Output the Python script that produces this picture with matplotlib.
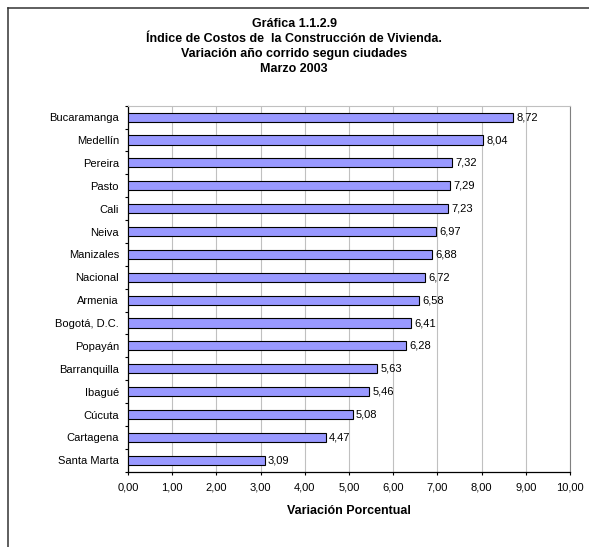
import matplotlib
matplotlib.use('Agg')
from matplotlib import pyplot as plt
from matplotlib.lines import Line2D
from matplotlib.ticker import FixedLocator, FuncFormatter
import numpy as np

plt.rcParams['font.family'] = ['Liberation Sans', 'DejaVu Sans']

titulos = ['Gráfica 1.1.2.9',
           'Índice de Costos de  la Construcción de Vivienda.',
           'Variación año corrido segun ciudades',
           'Marzo 2003']

ciudades = ['Bucaramanga', 'Medellín', 'Pereira', 'Pasto', 'Cali', 'Neiva',
            'Manizales', 'Nacional', 'Armenia', 'Bogotá, D.C.', 'Popayán',
            'Barranquilla', 'Ibagué', 'Cúcuta', 'Cartagena', 'Santa Marta']
variacion = [8.72, 8.04, 7.32, 7.29, 7.23, 6.97, 6.88, 6.72, 6.58, 6.41,
             6.28, 5.63, 5.46, 5.08, 4.47, 3.09]
xticks = np.arange(0, 11, 1)

W, H = 589, 547
fig = plt.figure(figsize=(W / 100, H / 100), dpi=100)
ax = fig.add_axes([128 / W, 1 - 471.7 / H, 442 / W, 366 / H])

# marco exterior (solo izquierda y arriba visibles)
fig.add_artist(Line2D([7.5 / W, 7.5 / W], [0, 1 - 7.5 / H], color='#333333', lw=1.1))
fig.add_artist(Line2D([7.5 / W, 1], [1 - 7.5 / H, 1 - 7.5 / H], color='#333333', lw=1.1))

y = np.arange(len(ciudades))
ax.barh(y, variacion, height=0.4, color='#9999FF', edgecolor='black', lw=0.8, zorder=3)

for yi, v in zip(y, variacion):
    ax.annotate(f'{v:.2f}'.replace('.', ','), (v, yi), xytext=(2.5, 0),
                textcoords='offset points', va='center', ha='left', fontsize=8)

ax.set_xlim(0, 10)
ax.set_ylim(len(ciudades) - 0.5, -0.5)
ax.set_xticks(xticks)
ax.xaxis.set_major_formatter(FuncFormatter(lambda v, p: f'{v:.2f}'.replace('.', ',')))
ax.set_yticks(y)
ax.set_yticklabels(ciudades)
ax.yaxis.set_minor_locator(FixedLocator(np.arange(-0.5, len(ciudades), 1)))
ax.tick_params(axis='y', which='major', length=0, pad=6.5, labelsize=8)
ax.tick_params(axis='y', which='minor', length=2.5, width=0.8, direction='out')
ax.tick_params(axis='x', length=2.5, width=0.8, direction='out', pad=5, labelsize=8)
ax.grid(axis='x', color='#c0c0c0', lw=0.8, zorder=0)
ax.set_axisbelow(True)

ax.spines['top'].set_color('#c0c0c0')
ax.spines['right'].set_color('#808080')
ax.spines['left'].set_linewidth(0.9)
ax.spines['bottom'].set_linewidth(0.9)

ax.set_xlabel('Variación Porcentual', fontsize=9, fontweight='bold', labelpad=9)

for i, t in enumerate(titulos):
    fig.text(294 / W, 1 - (24 + 15 * i) / H, t, ha='center', va='center',
             fontsize=9, fontweight='bold')

plt.savefig('out.png', dpi=100)
